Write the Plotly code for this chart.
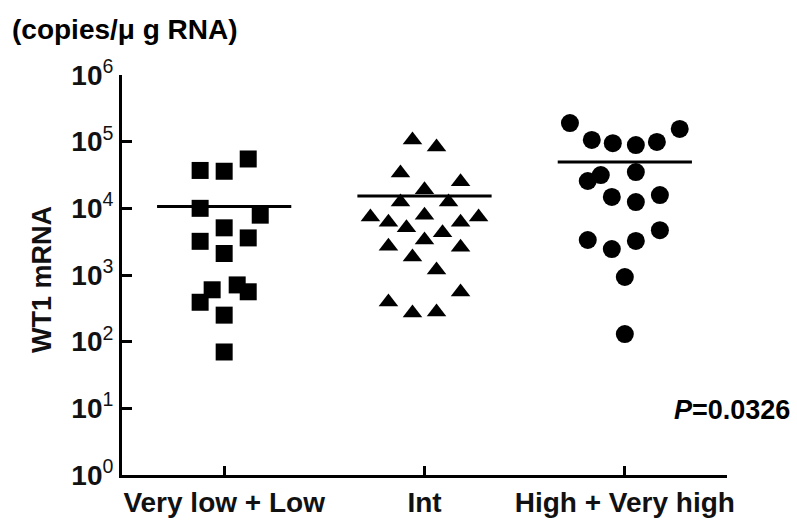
import plotly.graph_objects as go

# ---------------- data ----------------
categories = ["Very low + Low", "Int", "High + Very high"]

low_values = [5.5e4, 3.7e4, 3.6e4, 1.0e4, 7.9e3, 5.1e3, 3.2e3, 3.6e3, 2.1e3,
              600, 390, 710, 560, 250, 70]
low_offsets = [0.12, -0.12, 0.0, -0.12, 0.18, 0.0, -0.12, 0.12, 0.0,
               -0.06, -0.12, 0.065, 0.12, 0.0, 0.0]

int_values = [1.06e5, 8.3e4, 3.4e4, 2.5e4, 1.9e4, 1.24e4, 1.24e4, 7.4e3, 6.2e3,
              7.9e3, 6.2e3, 7.4e3, 5.1e3, 4.3e3, 3.35e3, 2.7e3, 2.6e3, 1.86e3,
              1.19e3, 556, 394, 269, 279]
int_offsets = [-0.06, 0.06, -0.12, 0.18, 0.0, -0.12, 0.12, -0.27, -0.18,
               0.0, 0.18, 0.27, -0.09, 0.09, 0.0, -0.18, 0.18, -0.06,
               0.06, 0.18, -0.18, -0.06, 0.06]

high_values = [1.9e5, 1.06e5, 9.5e4, 8.9e4, 9.9e4, 1.55e5, 2.57e4, 3.16e4, 3.5e4,
               1.48e4, 1.24e4, 1.58e4, 3.35e3, 2.45e3, 3.24e3, 4.7e3, 933, 130]
high_offsets = [-0.274, -0.165, -0.06, 0.055, 0.16, 0.274, -0.185, -0.12, 0.055,
                -0.065, 0.055, 0.175, -0.185, -0.065, 0.055, 0.175, 0.0, 0.0]

group_means = [1.065e4, 1.53e4, 4.95e4]

y_tickvals = [1, 10, 100, 1e3, 1e4, 1e5, 1e6]
y_ticktext = ["<b>10</b><sup>%d</sup>" % i for i in range(7)]

title_text = "<b>(copies/\u03bc g RNA)</b>"
y_title = "<b>WT1 mRNA</b>"
p_text = "<b><i>P</i>=0.0326</b>"

# ---------------- figure ----------------
FONT = "Liberation Sans, Arial, sans-serif"
fig = go.Figure()

groups = [
    (low_values, low_offsets, "square", 17),
    (int_values, int_offsets, "triangle-up", 17),
    (high_values, high_offsets, "circle", 18),
]
for gi, (vals, offs, sym, sz) in enumerate(groups):
    fig.add_trace(go.Scatter(
        x=[gi + o for o in offs], y=vals, mode="markers",
        marker=dict(symbol=sym, size=sz, color="black", line=dict(width=0)),
        showlegend=False, hoverinfo="y"))

half = 0.335
for gi, m in enumerate(group_means):
    fig.add_trace(go.Scatter(
        x=[gi - half, gi + half], y=[m, m], mode="lines",
        line=dict(color="black", width=3), showlegend=False, hoverinfo="skip"))

fig.update_layout(
    width=797, height=520,
    margin=dict(l=122, r=70, t=75, b=45, autoexpand=False),
    paper_bgcolor="white", plot_bgcolor="white",
    font=dict(family=FONT, color="black"),
    title=dict(text=title_text, x=12 / 797, xanchor="left", xref="container",
               y=1 - 29 / 520, yanchor="middle", yref="container",
               font=dict(size=28, family=FONT, color="black")),
    xaxis=dict(range=[-0.51, 2.51], tickvals=[0, 1, 2],
               ticktext=["<b>%s</b>" % c for c in categories],
               tickfont=dict(size=28, family=FONT, color="#111"),
               showline=True, linewidth=3, linecolor="black",
               ticks="inside", ticklen=9, tickwidth=3, tickcolor="black",
               showgrid=False, zeroline=False, fixedrange=True, automargin=False),
    yaxis=dict(type="log", range=[0, 6], tickvals=y_tickvals, ticktext=y_ticktext,
               tickfont=dict(size=28, family=FONT, color="#111"),
               showline=True, linewidth=3, linecolor="black",
               ticks="inside", ticklen=10, tickwidth=3, tickcolor="black",
               showgrid=False, zeroline=False, fixedrange=True, automargin=False),
    annotations=[
        dict(text=y_title, textangle=-90, xref="paper", yref="paper",
             x=(42 - 122) / 605, y=(475 - 280) / 400, xanchor="center", yanchor="middle",
             showarrow=False, font=dict(size=27, family=FONT, color="#111")),
        dict(text=p_text, xref="paper", yref="paper",
             x=(792 - 122) / 605, y=(475 - 410) / 400, xanchor="right", yanchor="middle",
             showarrow=False, font=dict(size=27, family=FONT, color="black")),
    ],
)

fig.write_html("out.html", config={"displayModeBar": False},
               post_script="document.body.style.margin='0';")
